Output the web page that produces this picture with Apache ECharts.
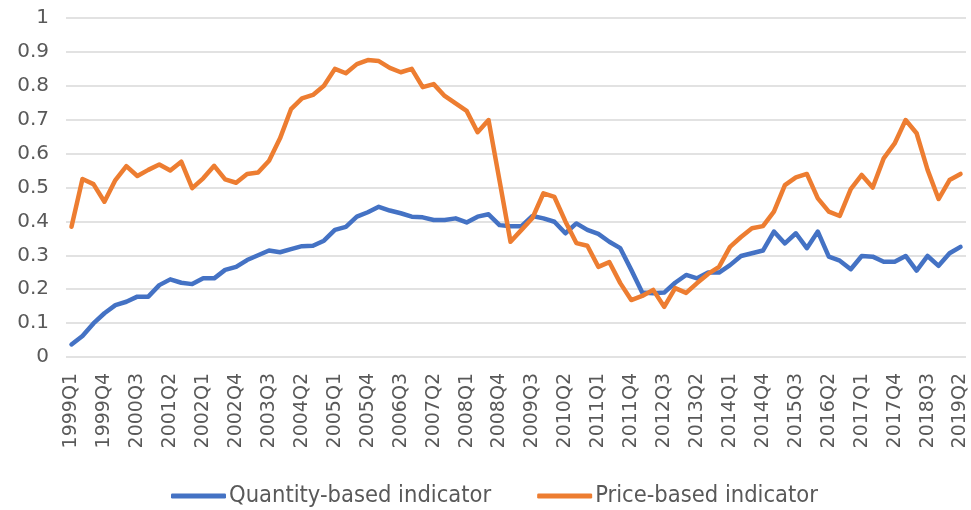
<!DOCTYPE html>
<html>
<head>
<meta http-equiv="content-type" content="text/html; charset=utf-8"/>
<title>Quantity-based vs Price-based indicator</title>
<style type="text/css">body,html{width:100%;height:100%;margin:0;background:#fff}#chart{width:971px;height:510px}</style>
<script src="https://cdn.jsdelivr.net/npm/echarts@6/dist/echarts.min.js"></script>
</head>
<body>
<div id="chart"></div>
<script>
	// quarters 1999Q1 .. 2019Q2
	var quarters = [];
	for (var y = 1999; y <= 2019; y++) {
		for (var q = 1; q <= 4; q++) {
			if (y == 2019 && q > 2) break;
			quarters.push(y + "Q" + q);
		}
	}

	var yTicks = [0, 0.1, 0.2, 0.3, 0.4, 0.5, 0.6, 0.7, 0.8, 0.9, 1];

	var quantityBased = [
		0.037, 0.062, 0.099, 0.129, 0.153, 0.163, 0.178, 0.178, 0.212, 0.229,
		0.219, 0.215, 0.232, 0.232, 0.257, 0.266, 0.286, 0.300, 0.314, 0.309,
		0.318, 0.327, 0.328, 0.343, 0.375, 0.384, 0.414, 0.427, 0.443, 0.432,
		0.424, 0.414, 0.412, 0.404, 0.404, 0.409, 0.397, 0.414, 0.421, 0.389,
		0.386, 0.386, 0.416, 0.409, 0.399, 0.365, 0.394, 0.375, 0.363, 0.340,
		0.321, 0.257, 0.190, 0.188, 0.190, 0.219, 0.242, 0.232, 0.249, 0.249,
		0.271, 0.298, 0.306, 0.314, 0.370, 0.335, 0.365, 0.321, 0.370, 0.296,
		0.284, 0.259, 0.298, 0.296, 0.281, 0.281, 0.298, 0.255, 0.298, 0.269,
		0.306, 0.325
	];

	var priceBased = [
		0.384, 0.525, 0.510, 0.458, 0.522, 0.563, 0.534, 0.552, 0.568, 0.550,
		0.576, 0.498, 0.527, 0.564, 0.524, 0.514, 0.540, 0.544, 0.579, 0.645,
		0.731, 0.763, 0.773, 0.800, 0.850, 0.837, 0.864, 0.876, 0.873, 0.853,
		0.840, 0.850, 0.796, 0.805, 0.770, 0.748, 0.726, 0.663, 0.699, 0.520,
		0.340, 0.375, 0.410, 0.483, 0.472, 0.400, 0.336, 0.328, 0.266, 0.280,
		0.218, 0.168, 0.180, 0.198, 0.148, 0.203, 0.189, 0.218, 0.245, 0.266,
		0.325, 0.354, 0.380, 0.386, 0.429, 0.507, 0.530, 0.540, 0.468, 0.429,
		0.416, 0.495, 0.537, 0.500, 0.586, 0.630, 0.699, 0.660, 0.552, 0.466,
		0.522, 0.540
	];

	var textColor = "#595959";
	var font = "DejaVu Sans";
	var narrowFont = "'Liberation Sans Narrow', 'DejaVu Sans Condensed', 'DejaVu Sans'";

	var myChart = echarts.init(document.getElementById("chart"));
	var option = {
		animation: false,
		backgroundColor: "#ffffff",
		grid: { left: 66, right: 5, top: 18, bottom: 153 },
		legend: {
			bottom: 2,
			left: 171,
			padding: 0,
			icon: "roundRect",
			itemWidth: 55,
			itemHeight: 5,
			itemGap: 46,
			textStyle: { color: textColor, fontSize: 23.5, fontFamily: narrowFont, padding: [0, 0, 0, -2] },
			data: ["Quantity-based indicator", "Price-based indicator"]
		},
		xAxis: {
			type: "category",
			data: quarters,
			boundaryGap: true,
			axisLine: { show: false },
			axisTick: { show: false },
			axisLabel: {
				interval: 2,
				rotate: 90,
				margin: 16,
				color: textColor,
				fontSize: 19,
				fontFamily: font
			}
		},
		yAxis: {
			type: "value",
			min: yTicks[0],
			max: yTicks[yTicks.length - 1],
			interval: 0.1,
			axisLine: { show: false },
			axisTick: { show: false },
			axisLabel: { color: textColor, fontSize: 20, fontFamily: font, margin: 17 },
			splitLine: { lineStyle: { color: "#D9D9D9", width: 1.5 } }
		},
		series: [
			{
				name: "Quantity-based indicator",
				type: "line",
				data: quantityBased,
				symbol: "none",
				color: "#4472C4",
				lineStyle: { width: 4.5, cap: "round", join: "round" }
			},
			{
				name: "Price-based indicator",
				type: "line",
				data: priceBased,
				symbol: "none",
				color: "#ED7D31",
				lineStyle: { width: 4.5, cap: "round", join: "round" }
			}
		]
	};
	myChart.setOption(option);
</script>
</body>
</html>
